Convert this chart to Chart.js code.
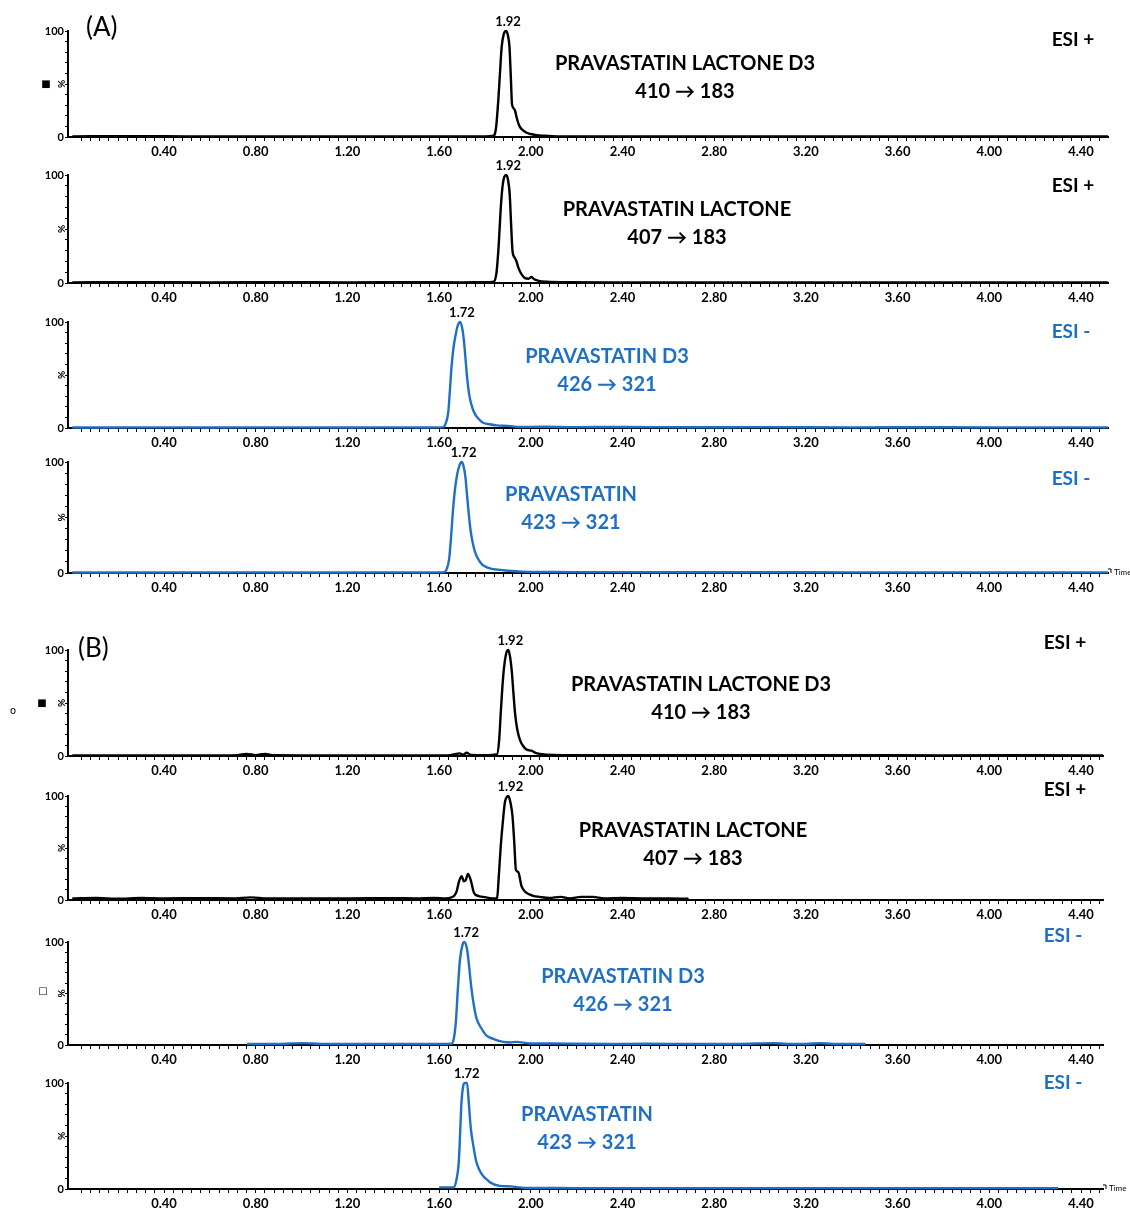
<!DOCTYPE html>
<html>
<head>
<meta charset="utf-8">
<script src="https://cdn.jsdelivr.net/npm/chart.js@4.4.1/dist/chart.umd.min.js"></script>
<style>
  html, body { margin: 0; padding: 0; background: #ffffff; }
  #page { position: relative; width: 1130px; height: 1210px; overflow: hidden; background: #ffffff; }
  #page canvas { position: absolute; left: 0; }
</style>
</head>
<body>
<div id="page"></div>
<script>
// ---------------- DATA ----------------
const xTickLabels = ['0.40','0.80','1.20','1.60','2.00','2.40','2.80','3.20','3.60','4.00','4.40'];
const yTickLabels = ['0','100'];

// (A) PRAVASTATIN LACTONE D3 410 -> 183
const a1Time  = [0.00,0.25,0.50,0.75,1.00,1.25,1.50,1.70,1.80,1.835,1.848,1.858,1.866,1.873,1.882,1.892,1.900,1.907,1.913,1.918,1.925,1.931,1.940,1.950,1.965,1.982,2.000,2.026,2.060,2.127,2.30,2.60,3.00,3.40,3.80,4.20,4.518];
const a1Value = [0.6,0.8,0.6,0.5,0.6,0.5,0.6,0.5,0.6,1.0,8,34,62,85,97,100,96,85,56,31,27,25,17,10.5,6.5,4,2.8,1.6,1.2,0.6,0.5,0.5,0.5,0.5,0.5,0.5,0.5];
// (A) PRAVASTATIN LACTONE 407 -> 183
const a2Time  = [0.00,0.30,0.60,0.90,1.20,1.50,1.70,1.80,1.838,1.850,1.860,1.868,1.876,1.884,1.893,1.901,1.908,1.914,1.920,1.928,1.936,1.946,1.960,1.975,1.990,2.003,2.015,2.035,2.070,2.150,2.40,2.80,3.20,3.60,4.00,4.40,4.518];
const a2Value = [0.6,0.7,0.6,0.7,0.6,0.7,0.6,0.7,1.2,9,35,66,88,98,100,95,82,55,30,24,21,14,8,4.5,4,5.5,3.5,2,1.2,0.8,0.6,0.6,0.6,0.6,0.6,0.6,0.6];
// (A) PRAVASTATIN D3 426 -> 321
const a3Time  = [0.00,0.30,0.60,0.90,1.20,1.40,1.55,1.60,1.618,1.630,1.640,1.647,1.654,1.663,1.673,1.682,1.691,1.700,1.708,1.715,1.722,1.731,1.741,1.752,1.763,1.778,1.792,1.820,1.850,1.900,1.953,2.05,2.20,2.40,2.70,3.00,3.40,3.80,4.20,4.518];
const a3Value = [0.5,0.6,0.5,0.6,0.5,0.6,0.5,0.6,0.8,5,15,35,57,76,89,97,100,95,83,66,48,32,22,15,11,7.5,5,3.5,2.5,2,1,1.2,0.8,1,0.7,0.8,0.6,0.7,0.6,0.6];
// (A) PRAVASTATIN 423 -> 321
const a4Time  = [0.00,0.30,0.60,0.90,1.20,1.40,1.55,1.60,1.622,1.634,1.644,1.652,1.660,1.669,1.679,1.689,1.698,1.707,1.715,1.722,1.730,1.739,1.749,1.760,1.772,1.786,1.800,1.825,1.855,1.900,1.960,2.05,2.20,2.40,2.70,3.00,3.40,3.80,4.20,4.518];
const a4Value = [0.5,0.5,0.6,0.5,0.5,0.6,0.5,0.6,0.8,4,13,32,55,75,89,97,100,96,86,70,52,36,25,17,12,8,6,4,3,2,1.2,1,0.8,0.8,0.7,0.7,0.6,0.6,0.6,0.6];
// (B) PRAVASTATIN LACTONE D3 410 -> 183
const b1Time  = [0.00,0.30,0.60,0.72,0.76,0.80,0.84,0.88,1.00,1.30,1.55,1.65,1.690,1.705,1.720,1.740,1.80,1.852,1.862,1.869,1.876,1.883,1.893,1.902,1.910,1.917,1.924,1.931,1.941,1.953,1.968,1.982,2.003,2.020,2.039,2.10,2.30,2.60,3.00,3.40,3.80,4.20,4.496];
const b1Value = [0.5,0.6,0.5,0.8,2,0.8,2,0.7,0.6,0.6,0.5,0.8,2.5,1.2,3,1,0.8,1.5,15,41,65,83,97,100,93,80,60,41,25,15,9,6,5,3,2,1,0.7,0.8,0.7,0.8,0.6,0.7,0.6];
// (B) PRAVASTATIN LACTONE 407 -> 183
const b2Time  = [0.00,0.10,0.20,0.30,0.40,0.55,0.70,0.78,0.85,1.00,1.20,1.40,1.50,1.58,1.63,1.654,1.666,1.676,1.687,1.698,1.708,1.716,1.726,1.738,1.752,1.770,1.790,1.815,1.843,1.853,1.861,1.869,1.878,1.887,1.895,1.902,1.911,1.920,1.928,1.935,1.945,1.960,1.975,1.988,2.010,2.039,2.08,2.13,2.17,2.22,2.27,2.32,2.40,2.50,2.60,2.688];
const b2Value = [1.5,2,1.2,2,1.5,1.8,1.5,2.5,1.5,1.5,1.5,1.8,1.5,2,1.5,2.5,4,8,18,23,18,19,25,19,7,4,3,2,1.5,2,25,52,75,94,99,100,94,81,55,29,27,13,8,6,4,3,2,3,1.5,3,3,1.5,2,1.5,1.5,1.2];
// (B) PRAVASTATIN D3 426 -> 321
const b3Time  = [0.762,0.90,1.00,1.10,1.30,1.50,1.60,1.654,1.664,1.673,1.682,1.691,1.703,1.709,1.722,1.731,1.741,1.752,1.763,1.785,1.807,1.836,1.880,1.910,1.938,1.996,2.10,2.20,2.35,2.50,2.70,2.90,3.06,3.12,3.20,3.26,3.32,3.46];
const b3Value = [1,1,1.8,1,1,1,1,1.2,6,22,55,83,98,100,93,76,55,38,26,16,9,6,3,2.5,3,1.5,1.5,1.2,1,1.2,1,1,1.8,1,1,1.8,1,1];
// (B) PRAVASTATIN 423 -> 321
const b4Time  = [1.600,1.630,1.663,1.675,1.686,1.698,1.705,1.712,1.722,1.730,1.738,1.750,1.762,1.778,1.793,1.808,1.824,1.864,1.911,1.974,2.05,2.20,2.50,2.80,3.20,3.60,4.00,4.30];
const b4Value = [1.5,1.5,1.5,8,26,83,97,100,100,80,58,40,26,17,12,9,6,3,2.5,1,1,0.8,0.8,0.8,0.8,0.8,0.8,0.8];

const compoundNames = ['PRAVASTATIN LACTONE D3','PRAVASTATIN LACTONE','PRAVASTATIN D3','PRAVASTATIN'];
const transitions   = ['410 \u2192 183','407 \u2192 183','426 \u2192 321','423 \u2192 321'];
const ionModes      = ['ESI +','ESI +','ESI -','ESI -'];
const peakLabels    = ['1.92','1.92','1.72','1.72'];
const panelLetters  = ['(A)','(B)'];

// ---------------- STYLE / LAYOUT ----------------
const FONT = 'Lato, "Open Sans", "DejaVu Sans", sans-serif';
const BLACK = '#000000';
const BLUE = '#1f6fc5';
const PAD_T = 30, XAXIS_H = 24, YAXIS_W = 68, CANVAS_W = 1130;

const panels = [
  {time:a1Time, value:a1Value, k:0, color:BLACK, y100:31,  y0:137,  right:1108, tx:685, ty:64,   mx:1073, my:40,  letter:0, lx:86, ly:28},
  {time:a2Time, value:a2Value, k:1, color:BLACK, y100:175, y0:283,  right:1108, tx:677, ty:210,  mx:1073, my:186},
  {time:a3Time, value:a3Value, k:2, color:BLUE,  y100:322, y0:428,  right:1108, tx:607, ty:357,  mx:1071, my:332},
  {time:a4Time, value:a4Value, k:3, color:BLUE,  y100:462, y0:573,  right:1108, tx:571, ty:495,  mx:1071, my:479, timeLabel:true},
  {time:b1Time, value:b1Value, k:0, color:BLACK, y100:650, y0:756,  right:1103, tx:701, ty:685,  mx:1065, my:643, letter:1, lx:78, ly:649},
  {time:b2Time, value:b2Value, k:1, color:BLACK, y100:796, y0:900,  right:1103, tx:693, ty:831,  mx:1065, my:790},
  {time:b3Time, value:b3Value, k:2, color:BLUE,  y100:942, y0:1045, right:1103, tx:623, ty:977,  mx:1063, my:936},
  {time:b4Time, value:b4Value, k:3, color:BLUE,  y100:1083,y0:1189, right:1103, tx:587, ty:1115, mx:1063, my:1083, timeLabel:true}
];
// small artefact glyphs of the original figure
const glyphs = [
  {panel:0, text:'\u25A0', x:46, y:84},
  {panel:4, text:'\u25A0', x:42, y:703},
  {panel:4, text:'o', x:13, y:711},
  {panel:6, text:'\u25A1', x:43, y:991}
];

// x positions: 0.40 at 164 px, 4.40 at 1081 px
const PX_PER_UNIT = (1081 - 164) / 4.0;
function tAt(px){ return 0.40 + (px - 164) / PX_PER_UNIT; }

function makeAnnotator(p, idx, top){
  return {
    id: 'ann' + idx,
    afterDraw(chart){
      const ctx = chart.ctx, ca = chart.chartArea, xs = chart.scales.x;
      ctx.save();
      // peak apex label
      let im = 0;
      p.value.forEach((v,i) => { if (v > p.value[im]) im = i; });
      ctx.fillStyle = '#000';
      ctx.textAlign = 'center';
      ctx.textBaseline = 'middle';
      ctx.font = 'bold 13px ' + FONT;
      ctx.fillText(peakLabels[p.k], xs.getPixelForValue(p.time[im]) + 2, ca.top - 9);
      // compound name + transition
      ctx.fillStyle = p.color;
      ctx.font = 'bold 20px ' + FONT;
      ctx.fillText(compoundNames[p.k], p.tx, p.ty - top);
      ctx.font = 'bold 20px ' + FONT;
      ctx.fillText(transitions[p.k], p.tx, p.ty + 28 - top);
      // ionisation mode
      ctx.font = 'bold 19px ' + FONT;
      ctx.fillText(ionModes[p.k], p.mx, p.my - top);
      // panel letter
      if (p.letter !== undefined) {
        ctx.fillStyle = '#000';
        ctx.textAlign = 'left';
        ctx.font = '26px ' + FONT;
        ctx.fillText(panelLetters[p.letter], p.lx, p.ly - top);
      }
      // rotated % on the y axis
      ctx.fillStyle = '#000';
      ctx.save();
      ctx.translate(ca.left - 6, (ca.top + ca.bottom) / 2);
      ctx.rotate(-Math.PI / 2);
      ctx.textAlign = 'center';
      ctx.font = 'bold 10px ' + FONT;
      ctx.fillText('%', 0, 0);
      ctx.restore();
      // artefact glyphs
      glyphs.filter(g => g.panel === idx).forEach(g => {
        ctx.font = '10px "DejaVu Sans", sans-serif';
        ctx.textAlign = 'center';
        ctx.fillText(g.text, g.x, g.y - top);
      });
      // Time label
      if (p.timeLabel) {
        ctx.textAlign = 'left';
        ctx.font = '8px ' + FONT;
        ctx.fillText('Time', ca.right + 6, ca.bottom - 1);
        ctx.beginPath();
        ctx.strokeStyle = '#000';
        ctx.lineWidth = 1;
        ctx.moveTo(ca.right, ca.bottom - 4);
        ctx.lineTo(ca.right + 3, ca.bottom - 4);
        ctx.lineTo(ca.right + 3, ca.bottom);
        ctx.stroke();
      }
      ctx.restore();
    }
  };
}

const page = document.getElementById('page');
panels.forEach((p, idx) => {
  const top = p.y100 - PAD_T;
  const h = (p.y0 - p.y100) + PAD_T + XAXIS_H;
  const cv = document.createElement('canvas');
  cv.width = CANVAS_W; cv.height = h;
  cv.style.top = top + 'px';
  cv.style.width = CANVAS_W + 'px'; cv.style.height = h + 'px';
  page.appendChild(cv);

  const xMin = tAt(YAXIS_W);
  const xMax = tAt(p.right);
  const xTicks = [];
  for (let i = 1; i * 0.04 <= xMax + 1e-9; i++) xTicks.push(+(i * 0.04).toFixed(2));
  const yTicks = [];
  for (let v = 0; v <= 100; v += 10) yTicks.push(v);

  new Chart(cv, {
    type: 'line',
    data: {
      datasets: [{
        data: p.time.map((t, i) => ({x: t, y: p.value[i]})),
        borderColor: p.color,
        borderWidth: 2.4,
        pointRadius: 0,
        fill: false,
        cubicInterpolationMode: 'monotone',
        clip: 4
      }]
    },
    options: {
      responsive: false,
      maintainAspectRatio: false,
      animation: false,
      events: [],
      layout: { padding: { top: PAD_T, right: CANVAS_W - p.right, left: 0, bottom: 0 } },
      plugins: { legend: { display: false }, tooltip: { enabled: false } },
      scales: {
        x: {
          type: 'linear', min: xMin, max: xMax,
          afterBuildTicks: s => { s.ticks = xTicks.map(v => ({value: v})); },
          afterFit: s => { s.height = XAXIS_H; },
          ticks: {
            autoSkip: false, maxRotation: 0, minRotation: 0, padding: 3,
            color: '#000', font: { family: FONT, size: 13, weight: 'bold' },
            callback: v => { const s = Number(v).toFixed(2); return xTickLabels.includes(s) ? s : ''; }
          },
          grid: { display: true, drawOnChartArea: false, drawTicks: true, tickLength: 4, color: '#000', lineWidth: 1 },
          border: { display: true, color: '#000', width: 2 }
        },
        y: {
          type: 'linear', min: 0, max: 100,
          afterBuildTicks: s => { s.ticks = yTicks.map(v => ({value: v})); },
          afterFit: s => { s.width = YAXIS_W; },
          ticks: {
            autoSkip: false, padding: 1,
            color: '#000', font: { family: FONT, size: 11, weight: 'bold' },
            callback: v => yTickLabels.includes(String(v)) ? String(v) : ''
          },
          grid: { display: true, drawOnChartArea: false, drawTicks: true, tickLength: 3, color: '#000', lineWidth: 1 },
          border: { display: true, color: '#000', width: 2 }
        }
      }
    },
    plugins: [makeAnnotator(p, idx, top)]
  });
});
</script>
</body>
</html>
